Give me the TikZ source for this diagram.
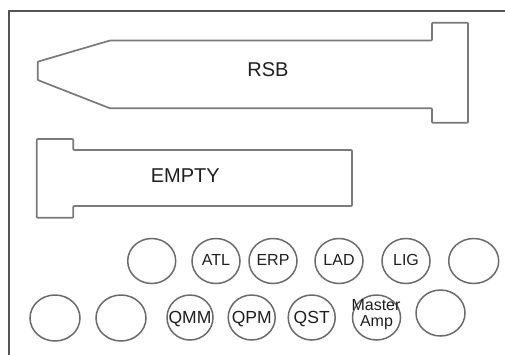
\documentclass[tikz,border=0pt]{standalone}
\usepackage{fontspec}
\setmainfont{Liberation Sans}
\usetikzlibrary{shapes.geometric}
\begin{document}
\begin{tikzpicture}[x=1pt,y=-1pt,
  frame/.style={draw=black!67, line width=2.4pt},
  slot/.style={draw=black!52, line width=1.7pt, line join=round, rounded corners=0.8pt},
  ell/.style={ellipse, draw=black!58, line width=1.5pt, inner sep=0pt, minimum width=48pt, minimum height=45pt},
  lbl/.style={text=black!88, inner sep=0pt, anchor=base, font=\fontsize{16}{16}\selectfont},
  qlbl/.style={lbl, font=\fontsize{17.5}{17.5}\selectfont},
  biglbl/.style={lbl, font=\fontsize{20}{20}\selectfont}]
\useasboundingbox (0,0) rectangle (505,354);
\draw[frame] (9,360) -- (9,11) -- (510,11);
% RSB slot
\draw[slot] (37.7,61.7) -- (110,40.5) -- (432,40.5) -- (432,22.7) -- (468,22.7) -- (468,122.7)
  -- (432,122.7) -- (432,108.3) -- (110,108.3) -- (37.7,80) -- cycle;
\node[biglbl] (rsb) at (268,76) {RSB};
% EMPTY slot
\draw[slot] (36.7,139) -- (73.3,139) -- (73.3,150) -- (352,150) -- (352,206) -- (73.3,206)
  -- (73.3,217.7) -- (36.7,217.7) -- cycle;
\node[biglbl] (empty) at (185.3,182.3) {EMPTY};
% top row
\node[ell] (t1) at (151.7,261) {};
\node[ell] (atl) at (216,261) {};
\node[ell] (erp) at (273,261) {};
\node[ell] (lad) at (339,261) {};
\node[ell] (lig) at (406,261) {};
\node[ell, minimum width=50pt] (t6) at (473.7,261) {};
\node[lbl] (atlt) at (216,265.5) {ATL};
\node[lbl] (erpt) at (273,265.5) {ERP};
\node[lbl] (ladt) at (339,265.5) {LAD};
\node[lbl] (ligt) at (406,265.5) {LIG};
% bottom row
\node[ell, minimum width=50pt, minimum height=46pt] (b1) at (55,318) {};
\node[ell, minimum width=50pt, minimum height=46pt] (b2) at (121,318) {};
\node[ell, minimum width=46pt] (qmm) at (190,317.5) {};
\node[ell, minimum width=47pt] (qpm) at (251.7,317.5) {};
\node[ell, minimum width=47pt] (qst) at (311.7,317.5) {};
\node[ell] (mas) at (376.5,317.5) {};
\node[ell, minimum width=49pt, minimum height=46pt] (b7) at (440.5,313) {};
\node[qlbl] (qmmt) at (190,323) {QMM};
\node[qlbl] (qpmt) at (251.7,323) {QPM};
\node[qlbl] (qstt) at (311.7,323) {QST};
\node[lbl] (mast) at (376,310) {Master};
\node[lbl] (ampt) at (376.5,326) {Amp};
\end{tikzpicture}
\end{document}
